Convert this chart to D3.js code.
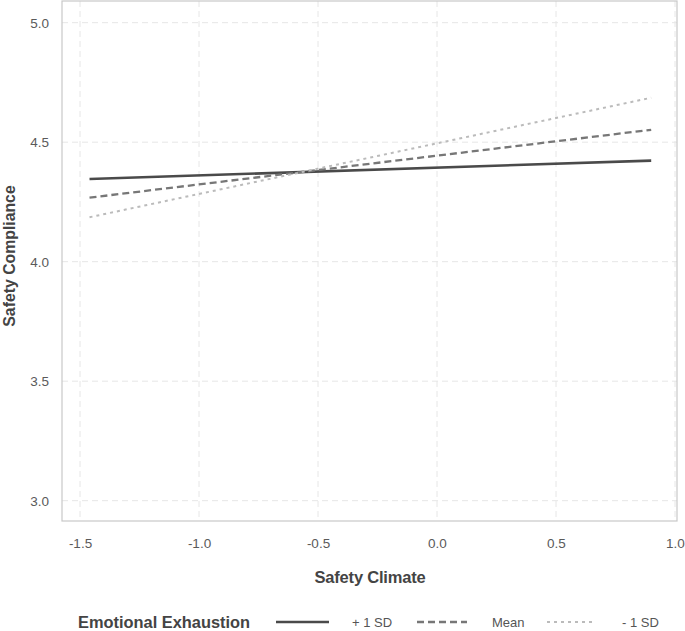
<!DOCTYPE html>
<html><head><meta charset="utf-8">
<script src="https://cdn.jsdelivr.net/npm/d3@7"></script>
<style>body{margin:0;background:#fff;} svg{display:block;font-family:"Liberation Sans",Arial,sans-serif;}</style>
</head><body>
<svg id="c" width="685" height="631"></svg>
<script>
const xTicks = [-1.5, -1.0, -0.5, 0.0, 0.5, 1.0];
const yTicks = [3.0, 3.5, 4.0, 4.5, 5.0];
const seriesNames = ["+ 1 SD", "Mean", "- 1 SD"];
const xValues = [-1.46, 0.9];
const plus1SD = [4.346, 4.423];
const meanVals = [4.268, 4.552];
const minus1SD = [4.186, 4.686];

const svg = d3.select("#c");
const L = 62, R = 677, T = 1, B = 521;
const x = d3.scaleLinear().domain([-1.5, 1.0]).range([80, 675]);
const y = d3.scaleLinear().domain([3.0, 5.0]).range([500.7, 22.7]);

// grid
const g = svg.append("g");
g.selectAll(".vg").data(xTicks).join("line")
  .attr("x1", d => x(d)).attr("x2", d => x(d)).attr("y1", T).attr("y2", B)
  .attr("stroke", "#e6e6e6").attr("stroke-width", 1).attr("stroke-dasharray", "6,4");
g.selectAll(".hg").data(yTicks).join("line")
  .attr("y1", d => y(d)).attr("y2", d => y(d)).attr("x1", L).attr("x2", R)
  .attr("stroke", "#e6e6e6").attr("stroke-width", 1).attr("stroke-dasharray", "6,4");

// border
svg.append("rect").attr("x", L).attr("y", T).attr("width", R - L).attr("height", B - T)
  .attr("fill", "none").attr("stroke", "#c8c8c8").attr("stroke-width", 1.2);

const fmt = d => d.toFixed(1);
// axes labels
const xAxis = d3.axisBottom(x).tickValues(xTicks).tickFormat(fmt).tickSize(0).tickPadding(0);
const xa = svg.append("g").attr("transform", `translate(0,548)`).call(xAxis);
xa.select(".domain").remove();
xa.selectAll("text").attr("dy", 0).attr("y", 0).attr("fill", "#5a5a5a").attr("font-size", 13.5).attr("font-family", "Liberation Sans, Arial, sans-serif");
const yAxis = d3.axisLeft(y).tickValues(yTicks).tickFormat(fmt).tickSize(0).tickPadding(0);
const ya = svg.append("g").attr("transform", `translate(49,0)`).call(yAxis);
ya.select(".domain").remove();
ya.selectAll("text").attr("fill", "#5a5a5a").attr("font-size", 13.5).attr("font-family", "Liberation Sans, Arial, sans-serif");

// titles
svg.append("text").attr("x", 370).attr("y", 583).attr("text-anchor", "middle")
  .attr("font-size", 16.5).attr("font-weight", "bold").attr("fill", "#444").attr("letter-spacing", -0.2).text("Safety Climate");
svg.append("text").attr("transform", "translate(15,256) rotate(-90)").attr("text-anchor", "middle")
  .attr("font-size", 15.8).attr("font-weight", "bold").attr("fill", "#444").text("Safety Compliance");

// lines
const styles = [
  {vals: plus1SD, color: "#4a4a4a", w: 2.6, dash: null},
  {vals: meanVals, color: "#777", w: 2.3, dash: "7,4"},
  {vals: minus1SD, color: "#bbb", w: 2.0, dash: "3,4"}
];
const line = d3.line().x(d => x(d[0])).y(d => y(d[1]));
styles.forEach(s => {
  svg.append("path").datum(xValues.map((xv, i) => [xv, s.vals[i]]))
    .attr("d", line).attr("fill", "none").attr("stroke", s.color)
    .attr("stroke-width", s.w).attr("stroke-dasharray", s.dash);
});

// legend
const ly = 622;
svg.append("text").attr("x", 78).attr("y", ly + 6).attr("font-size", 16.4).attr("font-weight", "bold")
  .attr("fill", "#444").text("Emotional Exhaustion");
const legX = [[276, 329, 352], [417, 467, 492], [547, 594, 622]];
styles.forEach((s, i) => {
  svg.append("line").attr("x1", legX[i][0]).attr("x2", legX[i][1]).attr("y1", ly).attr("y2", ly)
    .attr("stroke", s.color).attr("stroke-width", s.w).attr("stroke-dasharray", s.dash);
  svg.append("text").attr("x", legX[i][2]).attr("y", ly + 5).attr("font-size", 13)
    .attr("fill", "#555").text(seriesNames[i]);
});
</script>
</body></html>
